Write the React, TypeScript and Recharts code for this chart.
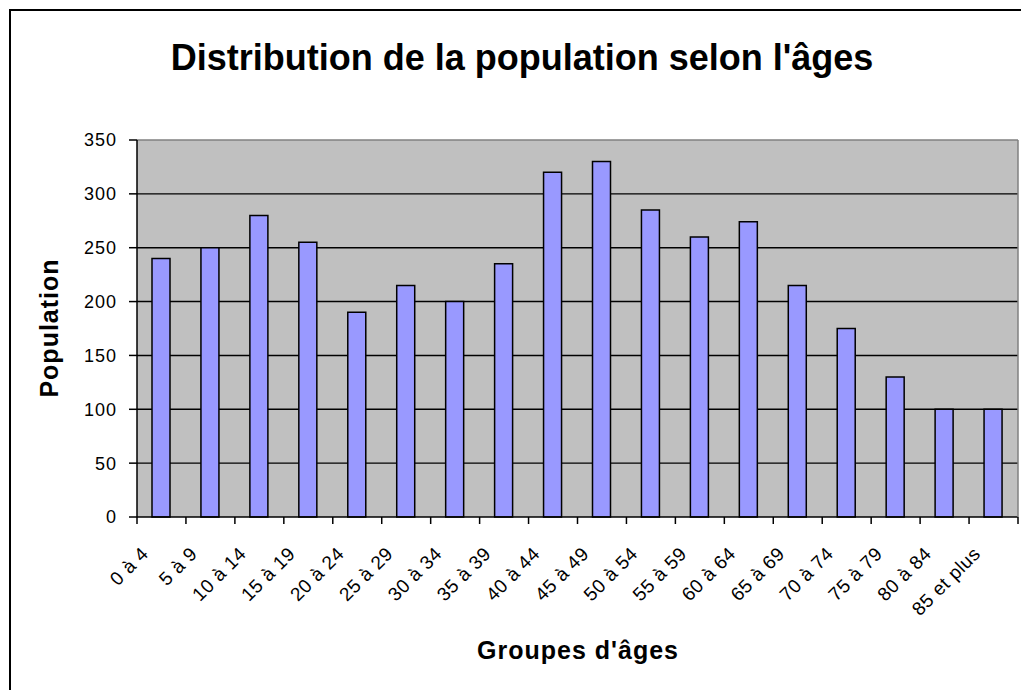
import React from 'react';
import { BarChart, Bar, XAxis, YAxis, CartesianGrid, ReferenceLine } from 'recharts';

const ageGroups = [
  '0 à 4', '5 à 9', '10 à 14', '15 à 19', '20 à 24', '25 à 29',
  '30 à 34', '35 à 39', '40 à 44', '45 à 49', '50 à 54', '55 à 59',
  '60 à 64', '65 à 69', '70 à 74', '75 à 79', '80 à 84', '85 et plus',
];
const population = [240, 250, 280, 255, 190, 215, 200, 235, 320, 330, 285, 260, 274, 215, 175, 130, 100, 100];
const yTicks = [0, 50, 100, 150, 200, 250, 300, 350];
const gridValues = [50, 100, 150, 200, 250, 300];

const W = 1021;
const H = 690;
const margin = { top: 140, right: 2, bottom: 73, left: 57 };
const Y_AXIS_W = 80;
const FONT = '"Liberation Sans", Arial, sans-serif';

const data = ageGroups.map((g, i) => ({ group: g, population: population[i] }));

// half of one category band, used to put tick marks between bars (Excel style)
const fallbackHalf = (W - margin.left - margin.right - Y_AXIS_W - 1) / ageGroups.length / 2;

function AgeTick(props: any) {
  const { x, y, payload, index } = props;
  const half = payload && payload.offset > 2 ? payload.offset : fallbackHalf;
  const tx = x - 12;
  const ty = y + 31;
  return (
    <g>
      <line x1={x - half} y1={y - 7} x2={x - half} y2={y} stroke="#000" strokeWidth={1.5} />
      {index === ageGroups.length - 1 && (
        <line x1={x + half} y1={y - 7} x2={x + half} y2={y} stroke="#000" strokeWidth={1.5} />
      )}
      <text
        x={tx}
        y={ty}
        transform={`rotate(-45, ${tx}, ${ty})`}
        textAnchor="end"
        fontFamily={FONT}
        fontSize={19}
        letterSpacing={0.5}
        fill="#000"
      >
        {payload.value}
      </text>
    </g>
  );
}

export default function App() {
  return (
    <div style={{ position: 'fixed', left: 0, top: 0, width: W, height: H, overflow: 'hidden', background: '#fff' }}>
      <div
        style={{
          position: 'absolute', left: 9, top: 9, width: 2000, height: 2000,
          borderLeft: '2px solid #000', borderTop: '2px solid #000',
        }}
      />
      <div style={{ position: 'absolute', left: 0, top: 0 }}>
        <BarChart width={W} height={H} data={data} margin={margin} barSize={18}>
          <CartesianGrid
            horizontal
            vertical={false}
            horizontalValues={gridValues}
            stroke="#000"
            strokeWidth={1.4}
            fill="#C0C0C0"
            fillOpacity={1}
          />
          <XAxis
            dataKey="group"
            interval={0}
            height={100}
            tickSize={7}
            tickMargin={0}
            tickLine={false}
            tick={<AgeTick />}
            axisLine={{ stroke: '#000', strokeWidth: 1.5 }}
          />
          <YAxis
            width={Y_AXIS_W}
            domain={[0, 350]}
            ticks={yTicks}
            interval={0}
            tickSize={8}
            tickMargin={12}
            tick={{ fill: '#000', fontSize: 18, fontFamily: FONT, letterSpacing: 1 }}
            tickLine={{ stroke: '#000', strokeWidth: 1.5 }}
            axisLine={{ stroke: '#000', strokeWidth: 1.5 }}
          />
          <YAxis
            yAxisId="r"
            orientation="right"
            width={1}
            tick={false}
            tickLine={false}
            axisLine={{ stroke: '#808080', strokeWidth: 1.5 }}
          />
          <ReferenceLine y={350} stroke="#808080" strokeWidth={1.5} />
          <Bar
            dataKey="population"
            fill="#9999FF"
            stroke="#000"
            strokeWidth={1.5}
            isAnimationActive={false}
          />
        </BarChart>
      </div>
      <svg width={W} height={H} style={{ position: 'absolute', left: 0, top: 0, pointerEvents: 'none' }}>
        <text x={522} y={70} textAnchor="middle" fontFamily={FONT} fontWeight="bold" fontSize={36} fill="#000">
          Distribution de la population selon l'âges
        </text>
        <text
          x={58}
          y={328}
          transform="rotate(-90, 58, 328)"
          textAnchor="middle"
          fontFamily={FONT}
          fontWeight="bold"
          fontSize={25}
          letterSpacing={1}
          fill="#000"
        >
          Population
        </text>
        <text x={578} y={659} textAnchor="middle" fontFamily={FONT} fontWeight="bold" fontSize={25} letterSpacing={1} fill="#000">
          Groupes d'âges
        </text>
      </svg>
    </div>
  );
}
